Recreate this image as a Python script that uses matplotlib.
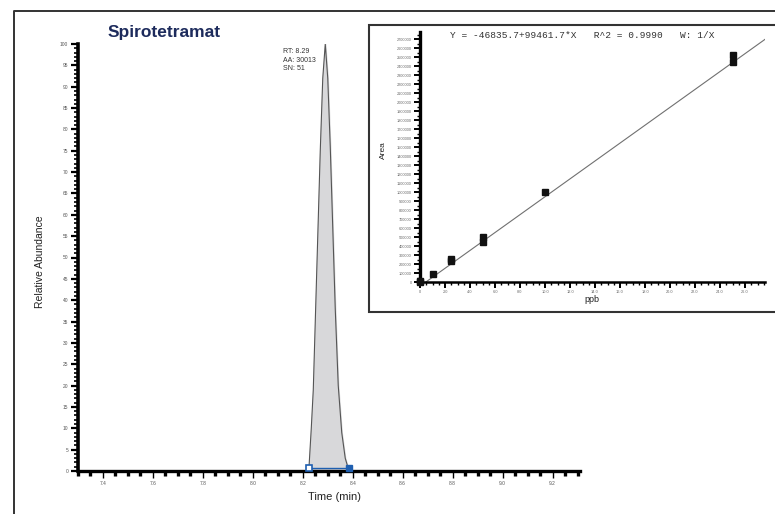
import matplotlib.pyplot as plt
from matplotlib.patches import Rectangle
from matplotlib.lines import Line2D
from matplotlib.ticker import MultipleLocator, FixedLocator

plt.rcParams['font.family'] = ['Liberation Sans', 'DejaVu Sans']

# chromatogram trace (min, %)
peak_time = [8.224, 8.228, 8.234, 8.242, 8.250, 8.260, 8.270, 8.280, 8.290,
             8.300, 8.310, 8.320, 8.330, 8.342, 8.356, 8.370, 8.380, 8.384]
peak_intensity = [0, 4, 10, 19, 35, 55, 75, 92, 100,
                  92, 76, 57, 38, 20, 9, 3, 1, 0]
peak_bounds = [8.224, 8.384]
peak_info = 'RT: 8.29\nAA: 30013\nSN: 51'
time_ticks = [7.4, 7.6, 7.8, 8.0, 8.2, 8.4, 8.6, 8.8, 9.0, 9.2]

# calibration points (ppb, area)
cal_ppb = [0, 0, 1, 2.5, 2.5, 5, 5, 10, 25, 25]
cal_area = [4000, 12000, 89000, 232000, 252000, 440000, 495000, 997000,
            2450000, 2520000]
fit_intercept = -46835.7
fit_slope = 99461.7
fit_r2 = 0.9990

W, H = 775, 514
fig = plt.figure(figsize=(7.75, 5.14), dpi=100)


def fx(px):
    return px / W


def fy(py):
    return 1 - py / H


# outer frame (top and left edges)
fig.add_artist(Line2D([fx(14), fx(14), 1.0], [0.0, fy(11), fy(11)],
                      transform=fig.transFigure, color='#333333', lw=1.4))

# ---- chromatogram ----
ax = fig.add_axes([fx(78), fy(471), fx(580) - fx(78), fy(44) - fy(471)])
ax.fill_between(peak_time, peak_intensity, color='#d8d8da', zorder=2)
ax.plot(peak_time, peak_intensity, color='#555555', lw=0.8, zorder=3)
ax.plot(peak_bounds, [0.6, 0.6], color='#1f5fb0', lw=1.0, zorder=4)
ax.plot(peak_bounds[:1], [0.6], marker='s', ms=4, mfc='white',
        mec='#1f5fb0', mew=1.2, zorder=5, clip_on=False)
ax.plot(peak_bounds[1:], [0.6], marker='s', ms=4.5, mfc='#1f5fb0',
        mec='#1f5fb0', zorder=5, clip_on=False)

ax.set_xlim(7.3, 9.31)
ax.set_ylim(0, 100)
for s in ['top', 'right']:
    ax.spines[s].set_visible(False)
ax.spines['left'].set_linewidth(2.6)
ax.spines['bottom'].set_linewidth(2.4)
ax.xaxis.set_major_locator(FixedLocator(time_ticks))
ax.xaxis.set_minor_locator(MultipleLocator(0.05))
ax.set_xticklabels([f'{t:.1f}' for t in time_ticks])
ax.yaxis.set_major_locator(MultipleLocator(5))
ax.yaxis.set_minor_locator(MultipleLocator(1))
ax.tick_params(axis='x', which='major', length=5, width=1.0,
               labelsize=3.5, labelcolor='#555555', pad=2)
ax.tick_params(axis='x', which='minor', length=3.5, width=2.4)
ax.tick_params(axis='y', which='major', length=5, width=1.6,
               labelsize=3.5, labelcolor='#555555', pad=2)
ax.tick_params(axis='y', which='minor', length=3, width=1.2)

ax.text(8.12, 99, peak_info, fontsize=5, color='#333333',
        va='top', ha='left', linespacing=1.25)

fig.text(fx(164), fy(33), 'Spirotetramat', fontsize=12.5,
         fontweight='bold', color='#1d2b5c', ha='center', va='center')
fig.text(fx(40), fy(262), 'Relative Abundance', fontsize=7.5,
         rotation=90, ha='center', va='center', color='#222222')
fig.text(fx(335), fy(497), 'Time (min)', fontsize=8,
         ha='center', va='center', color='#222222')

# ---- calibration inset ----
box = Rectangle((fx(369), fy(312)), 1.0 - fx(369) + 0.01, fy(25) - fy(312),
                transform=fig.transFigure, facecolor='white',
                edgecolor='#333333', lw=1.5, zorder=1)
fig.add_artist(box)

ins = fig.add_axes([fx(420), fy(282), fx(765) - fx(420), fy(32) - fy(282)])
ins.set_zorder(2)
ins.patch.set_alpha(0)
ins.set_xlim(0, 27.6)
ins.set_ylim(0, 2780000)
x0 = -fit_intercept / fit_slope
x1 = ins.get_xlim()[1]
ins.plot([x0, x1], [fit_intercept + fit_slope * x0,
                    fit_intercept + fit_slope * x1],
         color='#707070', lw=0.8, zorder=2)
ins.plot(cal_ppb, cal_area, ls='none', marker='s', ms=4.5,
         color='#111111', zorder=3, clip_on=False)

for s in ['top', 'right']:
    ins.spines[s].set_visible(False)
ins.spines['left'].set_linewidth(2.4)
ins.spines['bottom'].set_linewidth(1.8)
ins.xaxis.set_major_locator(MultipleLocator(2))
ins.xaxis.set_minor_locator(MultipleLocator(0.5))
ins.xaxis.set_major_formatter(lambda v, p: '0' if v == 0 else f'{v:.1f}')
ins.yaxis.set_major_locator(MultipleLocator(100000))
ins.yaxis.set_minor_locator(MultipleLocator(50000))
ins.yaxis.set_major_formatter(lambda v, p: f'{int(v)}')
ins.tick_params(axis='x', which='major', length=4, width=1.4,
                labelsize=2.8, labelcolor='#666666', pad=2)
ins.tick_params(axis='x', which='minor', length=2.5, width=1.0)
ins.tick_params(axis='y', which='major', length=4, width=1.4,
                labelsize=2.8, labelcolor='#666666', pad=2)
ins.tick_params(axis='y', which='minor', length=2, width=1.0)

eq = f'Y = {fit_intercept:.1f}+{fit_slope:.1f}*X   R^2 = {fit_r2:.4f}   W: 1/X'
fig.text(fx(450), fy(36), eq, fontsize=6.8, family='Liberation Mono',
         color='#333333', ha='left', va='center')
fig.text(fx(383), fy(150), 'Area', fontsize=6, rotation=90,
         ha='center', va='center', color='#222222')
fig.text(fx(592), fy(300), 'ppb', fontsize=6.5,
         ha='center', va='center', color='#222222')

fig.savefig('out.png', dpi=100)
